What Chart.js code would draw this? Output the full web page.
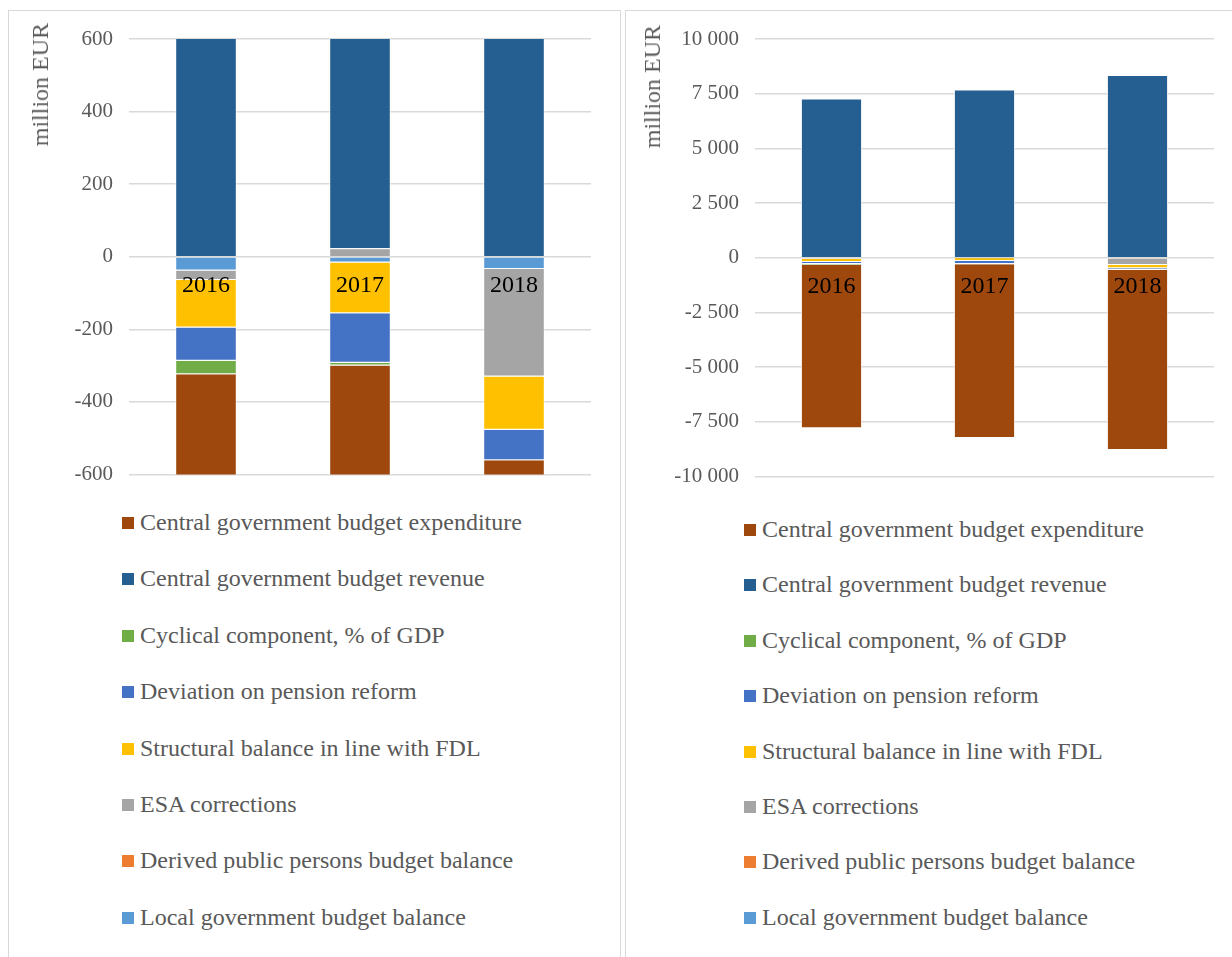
<!DOCTYPE html>
<html>
<head>
<meta charset="utf-8">
<title>Budget balance decomposition 2016–2018</title>
<script src="https://cdn.jsdelivr.net/npm/chart.js@4.4.1/dist/chart.umd.min.js"></script>
<style>
  html, body { margin: 0; padding: 0; background: #fff; overflow: hidden; }
  body { width: 1232px; height: 957px; position: relative; font-family: 'Liberation Serif', 'Times New Roman', serif; }
  .panel { position: absolute; top: 10px; height: 1000px; border: 1.5px solid #d9d9d9; box-sizing: border-box; }
  .panel canvas { position: absolute; }
  .ytitle { position: absolute; writing-mode: vertical-rl; transform: rotate(180deg); color: #595959; font-size: 24px; white-space: nowrap; line-height: 1; }
  .legend { position: absolute; margin: 0; padding: 0; list-style: none; color: #595959; font-size: 24px; }
  .legend li { position: absolute; left: 0; white-space: nowrap; line-height: 1; }
  .legend .box { display: inline-block; width: 12px; height: 12px; margin-right: 6px; vertical-align: 1px; }
</style>
</head>
<body>
<div class="panel" id="panelLeft" style="left:8px; width:613px;">
  <canvas id="chartLeft" width="612" height="493" style="left:-1.5px; top:-1.5px;"></canvas>
  <div class="ytitle" style="left:19px; top:12px;">million EUR</div>
  <ul class="legend" id="legendLeft" style="left:113px; top:0;"></ul>
</div>
<div class="panel" id="panelRight" style="left:625px; width:640px;">
  <canvas id="chartRight" width="607" height="495" style="left:-1.5px; top:-1.5px;"></canvas>
  <div class="ytitle" style="left:14px; top:14px;">million EUR</div>
  <ul class="legend" id="legendRight" style="left:118px; top:0;"></ul>
</div>
<script>
// Years on the category axis
const years = ['2016', '2017', '2018'];

// Components of the general government balance, million EUR
const localGovBalance      = [-38, -16, -34];
const derivedPublicBalance = [0, 0, 0];
const esaCorrections       = [-26, 23, -296];
const structuralBalance    = [-131, -140, -147];
const pensionDeviation     = [-92, -136, -84];
const cyclicalComponent    = [-37, -8, 0];
const centralRevenue       = [7280, 7671, 8354];
const centralExpenditure   = [-7473, -7940, -8227];

// Series names (legend order, top to bottom)
const seriesNames = [
  'Central government budget expenditure',
  'Central government budget revenue',
  'Cyclical component, % of GDP',
  'Deviation on pension reform',
  'Structural balance in line with FDL',
  'ESA corrections',
  'Derived public persons budget balance',
  'Local government budget balance'
];
const seriesColors = ['#9E480E', '#255E91', '#70AD47', '#4472C4', '#FFC000', '#A5A5A5', '#ED7D31', '#5B9BD5'];
const seriesValues = [centralExpenditure, centralRevenue, cyclicalComponent, pensionDeviation,
                      structuralBalance, esaCorrections, derivedPublicBalance, localGovBalance];

// Axis ranges and tick steps for the zoomed (left) and full (right) views
const leftAxis  = { min: -600, max: 600, step: 200 };
const rightAxis = { min: -10000, max: 10000, step: 2500 };

const serif = "'Liberation Serif', 'Times New Roman', serif";
Chart.defaults.font.family = serif;

function fmt(v) {
  const s = String(Math.abs(v)).replace(/\B(?=(\d{3})+(?!\d))/g, '\u00a0');
  return (v < 0 ? '-' : '') + s;
}

// Stack order from the zero line outward is the reverse of the legend order
function buildDatasets() {
  const ds = [];
  for (let i = seriesNames.length - 1; i >= 0; i--) {
    ds.push({
      label: seriesNames[i],
      data: seriesValues[i],
      backgroundColor: seriesColors[i],
      borderColor: 'rgba(255,255,255,0.75)',
      borderWidth: 1,
      categoryPercentage: 1,
      barPercentage: 0.4
    });
  }
  return ds;
}

function makeChart(canvasId, axis, yWidth, pad) {
  return new Chart(document.getElementById(canvasId), {
    type: 'bar',
    data: { labels: years, datasets: buildDatasets() },
    options: {
      responsive: false,
      animation: false,
      layout: { padding: pad },
      plugins: { legend: { display: false }, tooltip: { enabled: false } },
      scales: {
        x: {
          stacked: true,
          position: { y: 0 },
          grid: { display: false },
          border: { display: false },
          ticks: { z: 1, color: '#000', font: { family: serif, size: 24 }, padding: 7, maxRotation: 0, autoSkip: false },
          afterFit: s => { s.height = 0; }
        },
        y: {
          stacked: true,
          min: axis.min,
          max: axis.max,
          grid: { color: '#d9d9d9', lineWidth: 1.5, drawTicks: false },
          border: { display: false },
          ticks: { stepSize: axis.step, color: '#595959', font: { family: serif, size: 21 }, padding: 16, callback: v => fmt(v) },
          afterFit: s => { s.width = yWidth; }
        }
      }
    }
  });
}

function buildLegend(listId, rowTop, rowStep) {
  const ul = document.getElementById(listId);
  seriesNames.forEach((name, i) => {
    const li = document.createElement('li');
    li.style.top = (rowTop + i * rowStep) + 'px';
    const box = document.createElement('span');
    box.className = 'box';
    box.style.background = seriesColors[i];
    li.appendChild(box);
    li.appendChild(document.createTextNode(name));
    ul.appendChild(li);
  });
}

makeChart('chartLeft', leftAxis, 121, { left: 0, right: 29, top: 29, bottom: 16 });
makeChart('chartRight', rightAxis, 130, { left: 0, right: 18, top: 29, bottom: 14 });
buildLegend('legendLeft', 499, 56.4);
buildLegend('legendRight', 506, 55.4);
</script>
</body>
</html>
